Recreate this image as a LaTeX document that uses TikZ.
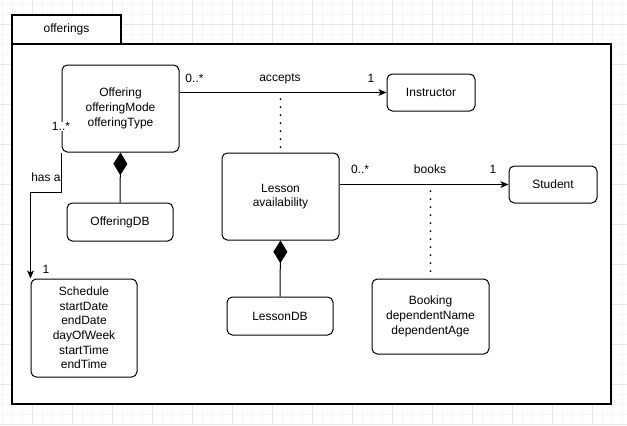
\documentclass[tikz,border=0pt]{standalone}
\usepackage{fontspec}
\setmainfont{Liberation Sans}
\usetikzlibrary{arrows.meta}
\definecolor{gridminor}{HTML}{F5F5F5}
\definecolor{gridmajor}{HTML}{E6E6E6}
\begin{document}
\begin{tikzpicture}[x=0.75pt,y=-0.75pt,
  box/.style={draw, line width=0.75pt, rounded corners=4pt, fill=white, align=center,
    font=\fontsize{9}{11}\selectfont, inner sep=0pt},
  lbl/.style={font=\fontsize{9}{11}\selectfont, inner sep=0.5pt},
  conn/.style={line width=0.75pt, -{Stealth[length=6pt,width=5pt,inset=1.5pt]}},
  dots/.style={line width=1.6pt, line cap=round, dash pattern=on 0pt off 6pt},
  comp/.style={line width=0.75pt, -{Diamond[length=17pt,width=10.5pt,fill=black]}},
  frame/.style={draw, line width=1pt, fill=white}]
\useasboundingbox (0,0) rectangle (627,425);
\fill[white] (0,0) rectangle (627,425);
% grid
\foreach \x in {2,12,...,622} \draw[gridminor, line width=0.75pt] (\x,0) -- (\x,425);
\foreach \y in {4,14,...,424} \draw[gridminor, line width=0.75pt] (0,\y) -- (627,\y);
\foreach \x in {32,72,...,622} \draw[gridmajor, line width=0.75pt] (\x,0) -- (\x,425);
\foreach \y in {24,64,...,424} \draw[gridmajor, line width=0.75pt] (0,\y) -- (627,\y);
% package frame
\draw[frame] (12,15) rectangle (121,44);
\node[lbl] (tab) at (66.5,29.5) {offerings};
\draw[frame] (12,44) rectangle (611,404);
% nodes
\node[box, minimum width=117*0.75pt, minimum height=87*0.75pt] (Offering) at (120.5,108.5) {Offering\\offeringMode\\offeringType};
\node[box, minimum width=88*0.75pt, minimum height=37*0.75pt] (Instructor) at (431,92.5) {Instructor};
\node[box, minimum width=117*0.75pt, minimum height=87*0.75pt] (Lesson) at (280.5,196.5) {Lesson\\availability};
\node[box, minimum width=88*0.75pt, minimum height=37*0.75pt] (Student) at (553,184.5) {Student};
\node[box, minimum width=106*0.75pt, minimum height=38*0.75pt] (OfferingDB) at (120,222) {OfferingDB};
\node[box, minimum width=106*0.75pt, minimum height=98*0.75pt] (Schedule) at (84,328) {Schedule\\startDate\\endDate\\dayOfWeek\\startTime\\endTime};
\node[box, minimum width=106*0.75pt, minimum height=38*0.75pt] (LessonDB) at (280,316) {LessonDB};
\node[box, minimum width=117*0.75pt, minimum height=75*0.75pt] (Booking) at (430.5,316.5) {Booking\\dependentName\\dependentAge};
% associations
\draw[conn] (Offering.east |- Instructor.west) -- (Instructor.west);
\coordinate (acc) at (Lesson.north |- Instructor.west);
\draw[dots] ([yshift=-5]acc) -- (Lesson.north);
\draw[conn] (Lesson.east |- Student.west) -- (Student.west);
\coordinate (bks) at (Booking.north |- Student.west);
\draw[dots] ([yshift=-5]bks) -- (Booking.north);
\draw[conn] (Offering.south west) -- ++(0,40) -| (Schedule.north west);
% compositions
\draw[comp] (OfferingDB.north) -- (Offering.south);
\draw[comp] (LessonDB.north) -- (Lesson.south);
% labels
\node[lbl] (l1) at (194.5,78.5) {0..*};
\node[lbl] (l2) at (280,78.5) {accepts};
\node[lbl] (l3) at (371,78.5) {1};
\node[lbl] (l4) at (360,169) {0..*};
\node[lbl] (l5) at (430,169) {books};
\node[lbl] (l6) at (493,169) {1};
\node[lbl, fill=white] (l7) at (61,126.5) {1..*};
\node[lbl] (l8) at (46,177.5) {has a};
\node[lbl] (l9) at (46,269) {1};
\end{tikzpicture}
\end{document}
